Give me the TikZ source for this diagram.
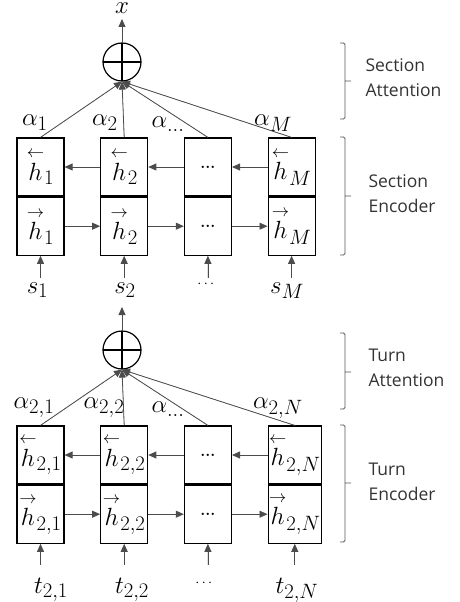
\documentclass[tikz,border=0pt]{standalone}
\usepackage{amsmath}
\usepackage{fontspec}
\setsansfont{Open Sans}
\usepackage{tikz}
\usetikzlibrary{positioning, arrows.meta}

\newcommand{\hbwd}{\mathord{\overset{\scriptscriptstyle\leftarrow}{h}}}
\newcommand{\hfwd}{\mathord{\overset{\scriptscriptstyle\rightarrow}{h}}}

\begin{document}
\begin{tikzpicture}[
  x=1pt, y=1pt,
  font=\fontsize{24.88}{28}\selectfont,
  cell/.style={draw, line width=1.2pt, minimum width=47pt,
    minimum height=58pt, inner sep=1pt},
  sumnode/.style={circle, draw, line width=1.2pt, minimum size=38pt,
    inner sep=0pt, path picture={
      \draw[line width=1.2pt]
        (path picture bounding box.north) -- (path picture bounding box.south)
        (path picture bounding box.west) -- (path picture bounding box.east);}},
  arrow/.style={-{Triangle[length=8pt,width=7pt]}, line width=0.8pt,
    draw=black!70, fill=black},
  dotsbox/.style={font=\fontsize{16}{18}\selectfont\bfseries},
  brace/.style={draw=black!65, line width=0.8pt, rounded corners=1.5pt},
  side/.style={font=\sffamily\fontsize{17.5}{25}\selectfont, text=black!80,
    align=left, anchor=west},
]
  \useasboundingbox (0,0) rectangle (459,-602);

  % section level
  \node[sumnode] (ssum) at (122,-62) {};
  \coordinate (sout) at (122,-19);
  \node[anchor=base, inner sep=0pt] (xlbl) at (122,-14) {$x$};

  \node[cell] (sbw1) at (40.5,-167) {$\hbwd_1$};
  \node[cell, right=35.5pt of sbw1] (sbw2) {$\hbwd_2$};
  \node[cell, right=35.5pt of sbw2, dotsbox] (sbw3) {...};
  \node[cell, right=35.5pt of sbw3] (sbw4) {$\hbwd_M$};
  \node[cell, below=0pt of sbw1] (sfw1) {$\hfwd_1$};
  \node[cell, below=0pt of sbw2] (sfw2) {$\hfwd_2$};
  \node[cell, below=0pt of sbw3, dotsbox] (sfw3) {...};
  \node[cell, below=0pt of sbw4] (sfw4) {$\hfwd_M$};

  \node (sa1) at (35,-123)  {$\alpha_1$};
  \node (sa2) at (105,-123) {$\alpha_2$};
  \node (sa3) at (168,-124) {$\alpha_{\dots}$};
  \node (sa4) at (273,-123) {$\alpha_M$};

  \node[anchor=base] (s1) at (37.5,-293) {$s_1$};
  \node[anchor=base] (s2) at (125,-293)  {$s_2$};
  \node[font=\fontsize{14}{16}\selectfont] (s3) at (207,-284) {$\cdots$};
  \node[anchor=base] (s4) at (287,-293)  {$s_M$};

  \draw[arrow] (ssum) -- (sout);
  \foreach \i in {1,...,4} {
    \draw[arrow] (sbw\i.north) -- (ssum.south);
    \draw[arrow] ([yshift=-22pt]sfw\i.south) -- (sfw\i.south);
  }
  \draw[arrow] (sbw2.west) -- (sbw1.east);
  \draw[arrow] (sbw3.west) -- (sbw2.east);
  \draw[arrow] (sbw4.west) -- (sbw3.east);
  \draw[arrow] (sfw1.east) -- (sfw2.west);
  \draw[arrow] (sfw2.east) -- (sfw3.west);
  \draw[arrow] (sfw3.east) -- (sfw4.west);

  % turn level
  \node[sumnode] (tsum) at (122,-350) {};
  \coordinate (tout) at (122,-307);

  \node[cell] (tbw1) at (40.5,-455) {$\hbwd_{2,1}$};
  \node[cell, right=35.5pt of tbw1] (tbw2) {$\hbwd_{2,2}$};
  \node[cell, right=35.5pt of tbw2, dotsbox] (tbw3) {...};
  \node[cell, right=35.5pt of tbw3] (tbw4) {$\hbwd_{2,N}$};
  \node[cell, below=0pt of tbw1] (tfw1) {$\hfwd_{2,1}$};
  \node[cell, below=0pt of tbw2] (tfw2) {$\hfwd_{2,2}$};
  \node[cell, below=0pt of tbw3, dotsbox] (tfw3) {...};
  \node[cell, below=0pt of tbw4] (tfw4) {$\hfwd_{2,N}$};

  \node (ta1) at (34,-408)  {$\alpha_{2,1}$};
  \node (ta2) at (104,-408) {$\alpha_{2,2}$};
  \node (ta3) at (168,-409) {$\alpha_{\dots}$};
  \node (ta4) at (278,-408) {$\alpha_{2,N}$};

  \node[anchor=base] (t1) at (51,-593)  {$t_{2,1}$};
  \node[anchor=base] (t2) at (132,-593) {$t_{2,2}$};
  \node[font=\fontsize{14}{16}\selectfont] (t3) at (205,-583) {$\cdots$};
  \node[anchor=base] (t4) at (297,-593) {$t_{2,N}$};

  \draw[arrow] (tsum) -- (tout);
  \foreach \i in {1,...,4} {
    \draw[arrow] (tbw\i.north) -- (tsum.south);
    \draw[arrow] ([yshift=-21pt]tfw\i.south) -- (tfw\i.south);
  }
  \draw[arrow] (tbw2.west) -- (tbw1.east);
  \draw[arrow] (tbw3.west) -- (tbw2.east);
  \draw[arrow] (tbw4.west) -- (tbw3.east);
  \draw[arrow] (tfw1.east) -- (tfw2.west);
  \draw[arrow] (tfw2.east) -- (tfw3.west);
  \draw[arrow] (tfw3.east) -- (tfw4.west);

  % brackets on the right
  \draw[brace] (340,-43) -| (345,-119) -- (340,-119) (345,-81) -- (351,-81);
  \node[side] (satt) at (362,-78) {Section\\Attention};
  \draw[brace] (340,-137) -| (345,-255) -- (340,-255) (345,-196) -- (351,-196);
  \node[side] (senc) at (365,-194) {Section\\Encoder};
  \draw[brace] (340,-333) -| (345,-409) -- (340,-409) (345,-372) -- (351,-372);
  \node[side] (tatt) at (365,-368) {Turn\\Attention};
  \draw[brace] (340,-425) -| (345,-542) -- (340,-542) (345,-483) -- (351,-483);
  \node[side] (tenc) at (365,-482) {Turn\\Encoder};
\end{tikzpicture}
\end{document}
